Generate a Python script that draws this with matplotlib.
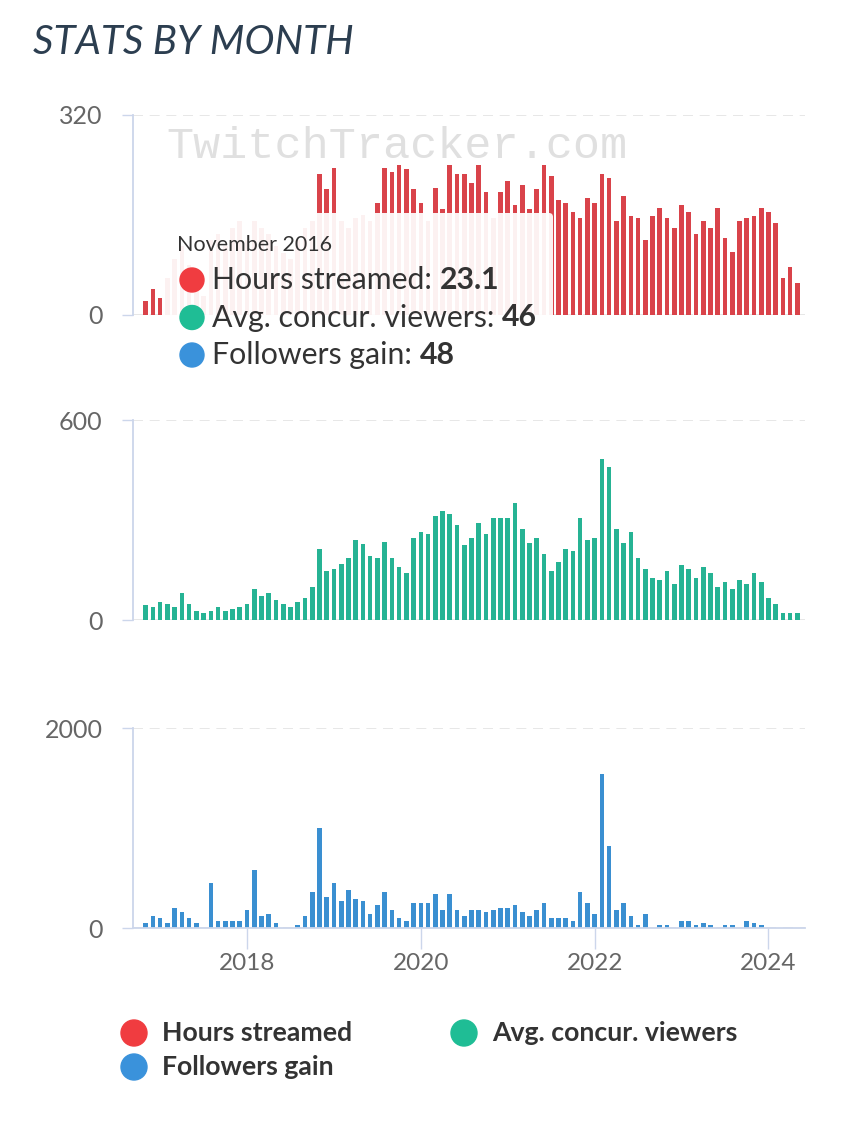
import numpy as np
import pandas as pd
import matplotlib
matplotlib.use("Agg")
import matplotlib.pyplot as plt
from matplotlib.patches import FancyBboxPatch, Circle

plt.rcParams['font.family'] = ['Lato', 'DejaVu Sans']

# monthly stats, Nov 2016 .. May 2024
months = pd.period_range('2016-11', '2024-05', freq='M')

hours = [23, 42, 28, 60, 90, 110, 80, 50, 30, 120, 130, 110, 140, 150, 120,
         150, 140, 130, 110, 100, 90, 120, 140, 150, 226, 201, 236, 150, 140, 155,
         160, 150, 180, 236, 229, 240, 233, 201, 180, 150, 204, 169, 240, 225, 225,
         212, 240, 197, 155, 197, 215, 176, 208, 169, 201, 240, 222, 184, 180, 165,
         155, 187, 180, 225, 219, 151, 190, 158, 155, 120, 158, 172, 155, 140, 176,
         165, 130, 151, 140, 172, 123, 101, 151, 155, 158, 172, 165, 148, 59, 77,
         52]
viewers = [46, 40, 54, 47, 40, 80, 47, 27, 20, 27, 40, 27, 34, 40, 47,
           94, 73, 80, 60, 47, 40, 54, 67, 100, 212, 147, 153, 167, 187, 239,
           227, 193, 186, 233, 186, 160, 140, 246, 265, 259, 313, 326, 319, 286, 226,
           246, 292, 259, 305, 305, 305, 351, 272, 232, 246, 199, 146, 173, 212, 206,
           305, 239, 246, 484, 458, 272, 232, 265, 186, 153, 127, 120, 146, 107, 166,
           153, 127, 160, 140, 100, 114, 93, 120, 107, 140, 114, 67, 47, 20, 20,
           20]
followers = [48, 116, 96, 50, 205, 162, 96, 50, 0, 446, 73, 73, 73, 73, 182,
             579, 116, 139, 50, 0, 0, 30, 116, 360, 998, 314, 446, 271, 380, 294,
             271, 139, 228, 360, 182, 96, 73, 248, 248, 248, 337, 182, 337, 182, 116,
             182, 182, 162, 182, 205, 205, 228, 162, 116, 182, 248, 96, 96, 96, 73,
             360, 248, 139, 1544, 823, 182, 248, 116, 30, 139, 0, 30, 30, 0, 73,
             73, 30, 50, 30, 0, 30, 30, 0, 73, 50, 30, 0, 0, 0, 0,
             0]
year_ticks = [2018, 2020, 2022, 2024]
ymaxes = [320, 600, 2000]
series_names = ['Hours streamed', 'Avg. concur. viewers', 'Followers gain']
bar_colors = ['#d9434a', '#26b394', '#3a8fd1']
dot_colors = ['#f03c40', '#1fbd95', '#3a92db']
tip_month = 'November 2016'
tip_values = ['23.1', '46', '48']

W, H = 850, 1126
fig = plt.figure(figsize=(W / 100, H / 100), dpi=100)
fig.patch.set_facecolor('white')

x = np.arange(len(months))
xt = [list(months).index(pd.Period(f'{y}-01', freq='M')) for y in year_ticks]
AX_L, AX_R = 133, 805
panels = [(115, 315), (420, 620), (728, 928)]
data = [hours, viewers, followers]

axes = []
for i, ((top, bot), vals) in enumerate(zip(panels, data)):
    ax = fig.add_axes([AX_L / W, 1 - bot / H, (AX_R - AX_L) / W, (bot - top) / H])
    ax.bar(x, vals, width=0.64, color=bar_colors[i], zorder=2)
    ax.set_xlim(-1.75, 91.05)
    ax.set_ylim(0, ymaxes[i])
    ax.set_yticks([0, ymaxes[i]])
    ax.set_yticklabels(['0', str(ymaxes[i])])
    ax.yaxis.grid(True, color='#e3e3e3', lw=1.2, ls=(0, (6, 4)), zorder=0)
    ax.tick_params(axis='y', length=8, width=1, color='#ccd6eb', pad=14,
                   labelsize=18, labelcolor='#666666')
    for s in ['top', 'right']:
        ax.spines[s].set_visible(False)
    ax.spines['left'].set_color('#ccd6eb')
    ax.spines['left'].set_linewidth(1.3)
    if i < 2:
        ax.spines['bottom'].set_visible(False)
        ax.set_xticks([])
    else:
        ax.spines['bottom'].set_color('#ccd6eb')
        ax.spines['bottom'].set_linewidth(1.3)
        ax.set_xticks(xt)
        ax.set_xticklabels([str(y) for y in year_ticks])
        ax.tick_params(axis='x', length=15, width=1, color='#ccd6eb', pad=3,
                       labelsize=17.5, labelcolor='#666666')
    axes.append(ax)

# watermark
axes[0].text(0.05, 0.84, 'TwitchTracker.com', transform=axes[0].transAxes,
             family='Liberation Mono', fontsize=32.5, color='#e0e0e0',
             va='center', ha='left', zorder=1)

# overlay in pixel coordinates
ov = fig.add_axes([0, 0, 1, 1], zorder=10)
ov.set_xlim(0, W)
ov.set_ylim(H, 0)
ov.axis('off')
ov.patch.set_alpha(0)

ov.text(33, 42, 'STATS BY MONTH', fontsize=29, fontstyle='italic',
        color='#2c3e50', va='center', ha='left')

# tooltip
ov.add_patch(FancyBboxPatch((165, 213), 388, 167, boxstyle='round,pad=0,rounding_size=4',
                            fc='white', ec='none', alpha=0.93))
ov.text(177, 245, tip_month, fontsize=15.5, color='#333333', va='center')
fig.canvas.draw()
rend = fig.canvas.get_renderer()
for j, (name, val) in enumerate(zip(series_names, tip_values)):
    yy = 280 + j * 37.5
    ov.add_patch(Circle((192, yy), 12, color=dot_colors[j]))
    t = ov.text(212, yy, name + ': ', fontsize=21.8, color='#333333', va='center')
    bb = t.get_window_extent(renderer=rend)
    ov.text(bb.x1, yy, val, fontsize=21.8, fontweight='bold', color='#333333', va='center')

# legend
leg_pos = [(134, 1033), (464, 1033), (134, 1067)]
for j, (lx, ly) in enumerate(leg_pos):
    ov.add_patch(Circle((lx, ly), 13, color=dot_colors[j]))
    ov.text(lx + 28, ly, series_names[j], fontsize=19.2, fontweight='bold',
            color='#333333', va='center')

fig.savefig('out.png', dpi=100)
